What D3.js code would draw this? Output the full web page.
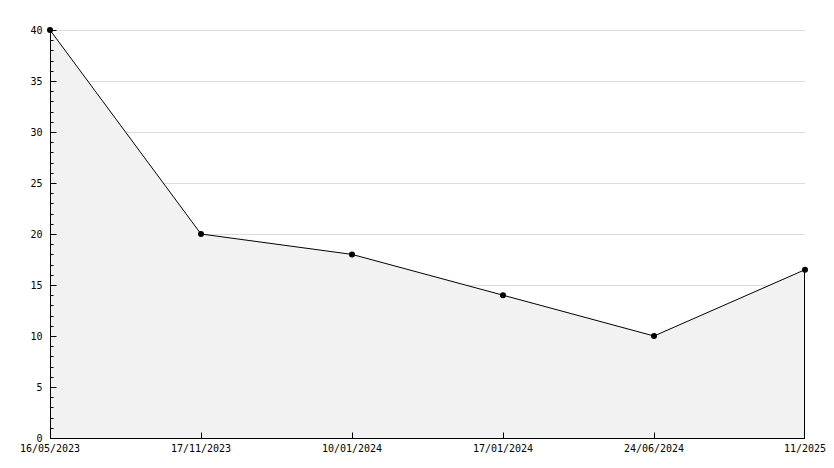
<!DOCTYPE html>
<html>
<head>
<meta charset="utf-8">
<script src="https://cdn.jsdelivr.net/npm/d3@7"></script>
<style>
  body { margin: 0; background: #fff; }
  svg text { font-family: "DejaVu Sans Mono", monospace; font-size: 10px; fill: #000; }
</style>
</head>
<body>
<svg width="834" height="468"></svg>
<script>
const dates = ['16/05/2023', '17/11/2023', '10/01/2024', '17/01/2024', '24/06/2024', '11/2025'];
const values = [40, 20, 18, 14, 10, 16.5];
const yTicks = [0, 5, 10, 15, 20, 25, 30, 35, 40];

const margin = { top: 30, right: 29, bottom: 30, left: 50 };
const width = 834;
const height = 468;

const svg = d3.select('svg');

const x = d3.scalePoint()
  .domain(dates)
  .range([margin.left, width - margin.right]);

const y = d3.scaleLinear()
  .domain([0, 40])
  .range([height - margin.bottom, margin.top]);

const data = dates.map((d, i) => ({ date: d, value: values[i] }));

// grid
svg.append('g')
  .selectAll('line')
  .data(yTicks.filter((t) => t > 0))
  .join('line')
  .attr('x1', x(dates[0]))
  .attr('x2', x(dates[dates.length - 1]))
  .attr('y1', (d) => Math.round(y(d)) + 0.5)
  .attr('y2', (d) => Math.round(y(d)) + 0.5)
  .attr('stroke', '#dcdcdc')
  .attr('stroke-width', 1);

// area
const area = d3.area()
  .x((d) => x(d.date))
  .y0(y(0))
  .y1((d) => y(d.value));

svg.append('path')
  .datum(data)
  .attr('d', area)
  .attr('fill', '#f2f2f2');

// right edge of area
svg.append('line')
  .attr('x1', x(dates[dates.length - 1]) - 0.5)
  .attr('x2', x(dates[dates.length - 1]) - 0.5)
  .attr('y1', y(values[values.length - 1]))
  .attr('y2', y(0))
  .attr('stroke', '#000');

// line
const line = d3.line()
  .x((d) => x(d.date))
  .y((d) => y(d.value));

svg.append('path')
  .datum(data)
  .attr('d', line)
  .attr('fill', 'none')
  .attr('stroke', '#000')
  .attr('stroke-width', 1);

// y axis: major ticks with labels, minor every unit
const yAxis = svg.append('g')
  .attr('transform', `translate(${margin.left + 0.5},0)`);

yAxis.append('line')
  .attr('y1', y(40))
  .attr('y2', y(0))
  .attr('stroke', '#000');

yAxis.selectAll('line.minor')
  .data(d3.range(0, 41))
  .join('line')
  .attr('class', 'minor')
  .attr('x1', 0)
  .attr('x2', (d) => d % 5 === 0 ? 6 : 3)
  .attr('y1', (d) => Math.round(y(d)) + 0.5)
  .attr('y2', (d) => Math.round(y(d)) + 0.5)
  .attr('stroke', '#000');

yAxis.selectAll('text')
  .data(yTicks)
  .join('text')
  .attr('x', -8)
  .attr('y', (d) => y(d))
  .attr('dy', '0.35em')
  .attr('text-anchor', 'end')
  .text((d) => d);

// x axis
const xAxis = svg.append('g')
  .attr('transform', `translate(0,${y(0) + 0.5})`);

xAxis.append('line')
  .attr('x1', x(dates[0]))
  .attr('x2', x(dates[dates.length - 1]))
  .attr('stroke', '#000');

xAxis.selectAll('line.tick')
  .data(dates.slice(1, -1))
  .join('line')
  .attr('class', 'tick')
  .attr('x1', (d) => Math.round(x(d)) + 0.5)
  .attr('x2', (d) => Math.round(x(d)) + 0.5)
  .attr('y1', 0)
  .attr('y2', -6)
  .attr('stroke', '#000');

xAxis.selectAll('text')
  .data(dates)
  .join('text')
  .attr('x', (d) => x(d))
  .attr('y', 13)
  .attr('text-anchor', 'middle')
  .text((d) => d);

// markers
svg.append('g')
  .selectAll('circle')
  .data(data)
  .join('circle')
  .attr('cx', (d) => x(d.date))
  .attr('cy', (d) => y(d.value))
  .attr('r', 3)
  .attr('fill', '#000');
</script>
</body>
</html>
